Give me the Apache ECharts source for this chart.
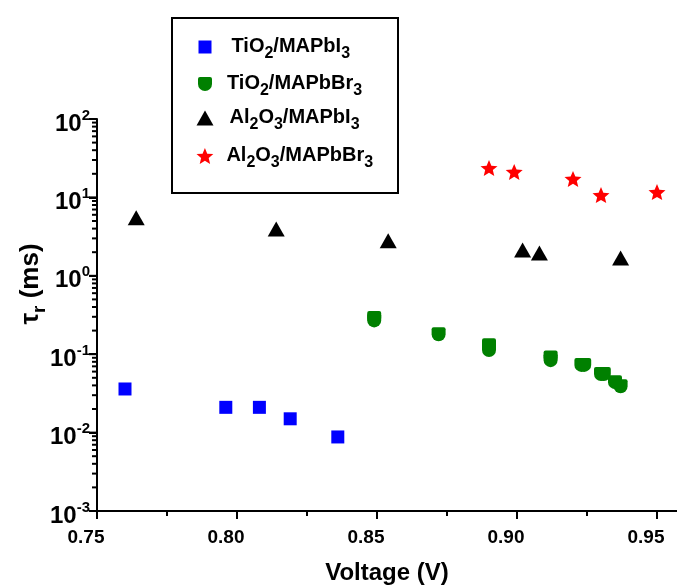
<!DOCTYPE html>
<html>
<head>
<meta charset="utf-8">
<script src="https://cdn.jsdelivr.net/npm/echarts@6/dist/echarts.min.js"></script>
<style>
html, body { margin: 0; padding: 0; background: #fff; }
#chartmain { width: 677px; height: 585px; }
</style>
</head>
<body>
<div id="chartmain"></div>
<script>
// values (voltage in V, tau_r in ms)
var seriesNames = ['TiO2/MAPbI3', 'TiO2/MAPbBr3', 'Al2O3/MAPbI3', 'Al2O3/MAPbBr3'];

var tio2PbI3X = [0.760, 0.796, 0.808, 0.819, 0.836];
var tio2PbI3Y = [0.036, 0.021, 0.021, 0.015, 0.0088];

var tio2PbBr3X = [0.849, 0.849, 0.872, 0.890, 0.890, 0.912, 0.912, 0.923, 0.924, 0.930, 0.931, 0.935, 0.937];
var tio2PbBr3Y = [0.29, 0.27, 0.18, 0.13, 0.113, 0.091, 0.084, 0.073, 0.073, 0.056, 0.056, 0.044, 0.039];

var al2o3PbI3X = [0.764, 0.814, 0.854, 0.902, 0.908, 0.937];
var al2o3PbI3Y = [5.5, 3.95, 2.8, 2.13, 1.95, 1.69];

var al2o3PbBr3X = [0.890, 0.899, 0.920, 0.930, 0.950];
var al2o3PbBr3Y = [23.7, 21.1, 17.2, 10.7, 11.7];

var xTickValues = [0.75, 0.80, 0.85, 0.90, 0.95];
var xMinorTicks = [0.775, 0.825, 0.875, 0.925];
var yTickValues = [0.001, 0.01, 0.1, 1, 10, 100];

var font = 'Liberation Sans, Arial, Helvetica, sans-serif';

function zip(xs, ys) {
    var out = [];
    for (var i = 0; i < xs.length; i++) {
        out.push([xs[i], ys[i]]);
    }
    return out;
}

// 2..9 in every decade of the log axis
function logMinorTicks() {
    var out = [];
    for (var i = 0; i < yTickValues.length - 1; i++) {
        for (var k = 2; k < 10; k++) {
            out.push(k * yTickValues[i]);
        }
    }
    return out;
}

function starPath() {
    var pts = [];
    for (var i = 0; i < 10; i++) {
        var r = i % 2 ? 0.45 : 1;
        var a = -Math.PI / 2 + i * Math.PI / 5;
        pts.push((50 + 50 * r * Math.cos(a)).toFixed(2) + ',' + (50 + 50 * r * Math.sin(a)).toFixed(2));
    }
    return 'path://M' + pts.join(' L') + ' Z';
}

var blobPath = 'path://M2,0 L12,0 Q14,0 14,2 L14,7 A7,7 0 0 1 0,7 L0,2 Q0,0 2,0 Z';

var legendText = {
    'TiO2/MAPbI3': '{a|TiO}{s|2}{a|/MAPbI}{s|3}',
    'TiO2/MAPbBr3': '{a|TiO}{s|2}{a|/MAPbBr}{s|3}',
    'Al2O3/MAPbI3': '{a|Al}{s|2}{a|O}{s|3}{a|/MAPbI}{s|3}',
    'Al2O3/MAPbBr3': '{a|Al}{s|2}{a|O}{s|3}{a|/MAPbBr}{s|3}'
};

var subRich = {
    a: { fontFamily: font, fontSize: 20, fontWeight: 'bold', color: '#000', lineHeight: 22, verticalAlign: 'top' },
    s: { fontFamily: font, fontSize: 16, fontWeight: 'bold', color: '#000', lineHeight: 16, verticalAlign: 'top', padding: [10, 0, 0, 0] }
};

function makeLegend(name, cy, w, h, gap) {
    return {
        data: [name],
        orient: 'vertical',
        left: 205 - w / 2,
        top: cy - 11,
        padding: 0,
        itemWidth: w,
        itemHeight: h,
        selectedMode: false,
        formatter: function(n) { return legendText[n]; },
        textStyle: { padding: [0, 0, 0, gap], rich: subRich }
    };
}

var baseGraphic = [
    {
        type: 'rect', z: 0,
        shape: { x: 172, y: 18, width: 226, height: 175 },
        style: { fill: '#fff', stroke: '#000', lineWidth: 2 }
    },
    {
        type: 'text', x: 31, y: 284, rotation: Math.PI / 2,
        style: {
            text: '{t|\u03c4}{r|r}{t| (ms)}',
            align: 'center', verticalAlign: 'middle',
            rich: {
                t: { fontFamily: font, fontSize: 26, fontWeight: 'bold', fill: '#000', lineHeight: 27, verticalAlign: 'top' },
                r: { fontFamily: font, fontSize: 19, fontWeight: 'bold', fill: '#000', lineHeight: 19, verticalAlign: 'top', padding: [13, 0, 0, 0] }
            }
        }
    }
];

function drawChart() {
    var xMax = 0.75 + 580 / 2800;

    var option = {
        animation: false,
        backgroundColor: '#fff',
        grid: { left: 97, right: 0, top: 119, bottom: 74, outerBoundsMode: 'none', containLabel: false },
        legend: [
            makeLegend(seriesNames[0], 47, 13, 13, 15),
            makeLegend(seriesNames[1], 84, 14, 14, 10),
            makeLegend(seriesNames[2], 118, 17, 15, 11),
            makeLegend(seriesNames[3], 156, 17, 16, 8)
        ],
        graphic: baseGraphic,
        xAxis: [{
            type: 'value',
            min: 0.75,
            max: xMax,
            position: 'bottom',
            splitLine: { show: false },
            axisLine: { onZero: false, lineStyle: { color: '#000', width: 2 } },
            axisTick: { customValues: xTickValues, length: 8, lineStyle: { color: '#000', width: 2 } },
            axisLabel: {
                customValues: xTickValues,
                formatter: function(v) { return v.toFixed(2); },
                fontFamily: font, fontSize: 19, fontWeight: 'bold', color: '#000',
                margin: 17, padding: [0, 22, 0, 0]
            },
            name: 'Voltage (V)',
            nameLocation: 'middle',
            nameGap: 50,
            nameTextStyle: { fontFamily: font, fontSize: 24, fontWeight: 'bold', color: '#000' }
        }, {
            type: 'value',
            min: 0.75,
            max: xMax,
            position: 'bottom',
            splitLine: { show: false },
            axisLine: { onZero: false, show: false },
            axisTick: { customValues: xMinorTicks, length: 5, lineStyle: { color: '#000', width: 2 } },
            axisLabel: { show: false }
        }],
        yAxis: {
            type: 'log',
            logBase: 10,
            min: 0.001,
            max: 100,
            position: 'left',
            splitLine: { show: false },
            axisLine: { show: true, onZero: false, lineStyle: { color: '#000', width: 2 } },
            axisTick: { show: true, length: 8, lineStyle: { color: '#000', width: 2 } },
            axisLabel: {
                margin: 7,
                formatter: function(v) {
                    var e = Math.round(Math.log(v) / Math.LN10);
                    return '{b|10}{e|' + e + '}';
                },
                rich: {
                    b: { fontFamily: font, fontSize: 24, fontWeight: 'bold', color: '#000', lineHeight: 22, verticalAlign: 'top', padding: [4, 0, 0, 0] },
                    e: { fontFamily: font, fontSize: 15, fontWeight: 'bold', color: '#000', lineHeight: 15, verticalAlign: 'top' }
                }
            }
        },
        series: [{
            name: seriesNames[0],
            type: 'scatter',
            symbol: 'rect',
            symbolSize: 13,
            itemStyle: { color: '#0000ff', opacity: 1 },
            data: zip(tio2PbI3X, tio2PbI3Y)
        }, {
            name: seriesNames[1],
            type: 'scatter',
            symbol: blobPath,
            symbolSize: [14, 14],
            itemStyle: { color: '#008000', opacity: 1 },
            data: zip(tio2PbBr3X, tio2PbBr3Y)
        }, {
            name: seriesNames[2],
            type: 'scatter',
            symbol: 'triangle',
            symbolSize: [17, 15],
            itemStyle: { color: '#000', opacity: 1 },
            data: zip(al2o3PbI3X, al2o3PbI3Y)
        }, {
            name: seriesNames[3],
            type: 'scatter',
            symbol: starPath(),
            symbolSize: [17, 16],
            itemStyle: { color: '#ff0000', opacity: 1 },
            data: zip(al2o3PbBr3X, al2o3PbBr3Y)
        }]
    };

    var myChart = echarts.init(document.getElementById('chartmain'));
    myChart.setOption(option);

    // y ticks placed through the log axis' own scale
    var axisX = myChart.convertToPixel({ xAxisIndex: 0 }, 0.75);
    var tickEls = [];
    var addTick = function(v, len) {
        var py = myChart.convertToPixel({ yAxisIndex: 0 }, v);
        tickEls.push({
            type: 'line', z: 10,
            shape: { x1: axisX - len, y1: py, x2: axisX, y2: py },
            style: { stroke: '#000', lineWidth: 2 }
        });
    };
    yTickValues.forEach(function(v) { addTick(v, 8); });
    logMinorTicks().forEach(function(v) { addTick(v, 5); });
    myChart.setOption({ graphic: baseGraphic.concat(tickEls) });
}

drawChart();
</script>
</body>
</html>
